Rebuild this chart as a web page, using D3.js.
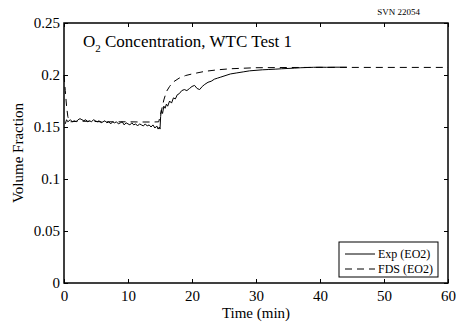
<!DOCTYPE html>
<html>
<head>
<meta charset="utf-8">
<script src="https://cdn.jsdelivr.net/npm/d3@7"></script>
<style>
  body { margin: 0; background: #fff; }
  text { font-family: "Liberation Serif", "Times New Roman", serif; fill: #000; }
</style>
</head>
<body>
<svg id="chart"></svg>
<script>
// Experimental O2 (EO2)
const expTime = [0.2, 0.4, 0.6, 0.8, 1.0, 1.3, 1.6, 1.9, 2.2, 2.5, 2.8, 3.1, 3.4, 3.7, 4.0, 4.3, 4.6, 4.9,
  5.2, 5.5, 5.8, 6.1, 6.4, 6.7, 7.0, 7.3, 7.6, 7.9, 8.2, 8.5, 8.8, 9.1, 9.4, 9.7, 10.0, 10.3, 10.6, 10.9,
  11.2, 11.5, 11.8, 12.1, 12.4, 12.7, 13.0, 13.3, 13.6, 13.9, 14.2, 14.5, 14.7, 14.9, 15.0, 15.1, 15.2,
  15.4, 15.6, 15.8, 16.0, 16.2, 16.5, 16.8, 17.1, 17.4, 17.7, 18.0, 18.4, 18.8, 19.2, 19.6, 20.0, 20.4,
  20.8, 21.2, 21.6, 22.0, 22.5, 23.0, 23.5, 24.0, 24.5, 25.0, 26.0, 27.0, 28.0, 29.0, 30.0, 31.0, 32.0,
  33.0, 34.0, 35.0, 36.0, 37.0, 38.0, 39.0, 40.0, 41.0, 42.0, 43.0, 44.2];
const expO2 = [0.153, 0.157, 0.155, 0.156, 0.157, 0.155, 0.156, 0.155, 0.157, 0.158, 0.157, 0.156, 0.157,
  0.155, 0.156, 0.155, 0.157, 0.156, 0.155, 0.156, 0.154, 0.155, 0.156, 0.154, 0.155, 0.153, 0.155, 0.154,
  0.155, 0.153, 0.154, 0.155, 0.152, 0.154, 0.153, 0.152, 0.154, 0.152, 0.153, 0.151, 0.153, 0.152, 0.151,
  0.153, 0.151, 0.152, 0.150, 0.152, 0.149, 0.151, 0.148, 0.150, 0.148, 0.160, 0.166, 0.163, 0.170, 0.168,
  0.172, 0.170, 0.175, 0.173, 0.178, 0.177, 0.181, 0.182, 0.185, 0.186, 0.185, 0.187, 0.189, 0.190, 0.187,
  0.186, 0.189, 0.191, 0.193, 0.194, 0.196, 0.197, 0.198, 0.199, 0.201, 0.202, 0.203, 0.204, 0.2045,
  0.205, 0.2053, 0.2056, 0.206, 0.2063, 0.2066, 0.207, 0.2072, 0.2074, 0.2075, 0.2074, 0.2075, 0.2075, 0.2075];

// FDS prediction (EO2)
const fdsTime = [0, 0.2, 0.4, 0.6, 0.8, 1.0, 2, 4, 6, 8, 10, 12, 14, 14.8, 15.2, 15.6, 16.0, 16.5, 17.0,
  18.0, 19.0, 20.0, 22, 24, 26, 28, 30, 35, 40, 50, 60];
const fdsO2 = [0.200, 0.185, 0.170, 0.160, 0.156, 0.155, 0.1555, 0.1555, 0.155, 0.155, 0.155, 0.1548,
  0.1548, 0.155, 0.165, 0.176, 0.184, 0.189, 0.193, 0.197, 0.1995, 0.201, 0.2035, 0.205, 0.206, 0.2065,
  0.207, 0.2072, 0.2073, 0.2073, 0.2073];

const xTicks = [0, 10, 20, 30, 40, 50, 60];
const yTicks = [0, 0.05, 0.1, 0.15, 0.2, 0.25];
const yTickLabels = ["0", "0.05", "0.1", "0.15", "0.2", "0.25"];

const W = 456, H = 327;
const margin = {top: 23, right: 8, bottom: 44, left: 64};
const width = W - margin.left - margin.right;
const height = H - margin.top - margin.bottom;
const serif = "'Liberation Serif', 'Times New Roman', serif";

const svg = d3.select("#chart").attr("width", W).attr("height", H);
svg.append("rect").attr("width", W).attr("height", H).attr("fill", "#fff");

const g = svg.append("g")
  .attr("transform", "translate(" + margin.left + "," + margin.top + ")");

const x = d3.scaleLinear().domain([0, 60]).range([0, width]);
const y = d3.scaleLinear().domain([0, 0.25]).range([height, 0]);

// ticks pointing inward, on all four sides
const tickLen = 4;
g.append("g")
  .attr("transform", "translate(0," + height + ")")
  .call(d3.axisBottom(x).tickValues(xTicks).tickSizeInner(-tickLen).tickSizeOuter(0).tickPadding(7).tickFormat(d3.format("d")));
g.append("g")
  .call(d3.axisTop(x).tickValues(xTicks).tickSizeInner(-tickLen).tickSizeOuter(0).tickFormat(""));
g.append("g")
  .call(d3.axisLeft(y).tickValues(yTicks).tickSizeInner(-tickLen).tickSizeOuter(0).tickPadding(4)
    .tickFormat((d, i) => yTickLabels[i]));
g.append("g")
  .attr("transform", "translate(" + width + ",0)")
  .call(d3.axisRight(y).tickValues(yTicks).tickSizeInner(-tickLen).tickSizeOuter(0).tickFormat(""));

g.selectAll("g").attr("font-family", serif).attr("font-size", 15);
g.selectAll(".domain").remove();
g.selectAll(".tick line").attr("stroke", "#000");
g.selectAll(".tick text")
  .style("font-family", serif)
  .style("font-size", "15px");

// box
g.append("rect")
  .attr("width", width).attr("height", height)
  .attr("fill", "none").attr("stroke", "#000").attr("stroke-width", 1.5);

const line = d3.line().x(d => x(d[0])).y(d => y(d[1]));

g.append("path")
  .datum(fdsTime.map((t, i) => [t, fdsO2[i]]))
  .attr("d", line)
  .attr("fill", "none").attr("stroke", "#000").attr("stroke-width", 1)
  .attr("stroke-dasharray", "7,5");

g.append("path")
  .datum(expTime.map((t, i) => [t, expO2[i]]))
  .attr("d", line)
  .attr("fill", "none").attr("stroke", "#000").attr("stroke-width", 1);

// title
const title = g.append("text")
  .attr("x", 19).attr("y", 24)
  .style("font-size", "17px");
title.append("tspan").text("O");
title.append("tspan").attr("dy", 5).style("font-size", "11px").text("2");
title.append("tspan").attr("dy", -5).text(" Concentration, WTC Test 1");

// axis labels
svg.append("text")
  .attr("x", margin.left + width / 2).attr("y", 318)
  .attr("text-anchor", "middle")
  .style("font-size", "15px")
  .text("Time (min)");

svg.append("text")
  .attr("transform", "translate(23," + (margin.top + height / 2) + ") rotate(-90)")
  .attr("text-anchor", "middle")
  .style("font-size", "15px")
  .text("Volume Fraction");

svg.append("text")
  .attr("x", 420).attr("y", 15)
  .attr("text-anchor", "end")
  .style("font-size", "9px")
  .text("SVN 22054");

// legend
const legend = svg.append("g").attr("transform", "translate(339,242)");
legend.append("rect")
  .attr("width", 99).attr("height", 35)
  .attr("fill", "#fff").attr("stroke", "#000").attr("stroke-width", 1);
const legendItems = [
  {label: "Exp (EO2)", dash: null},
  {label: "FDS (EO2)", dash: "7,5"}
];
legendItems.forEach((item, i) => {
  const ly = 12 + i * 15;
  legend.append("line")
    .attr("x1", 6).attr("x2", 36).attr("y1", ly).attr("y2", ly)
    .attr("stroke", "#000").attr("stroke-width", 1)
    .attr("stroke-dasharray", item.dash);
  legend.append("text")
    .attr("x", 39).attr("y", ly + 4)
    .style("font-size", "12px")
    .text(item.label);
});
</script>
</body>
</html>
